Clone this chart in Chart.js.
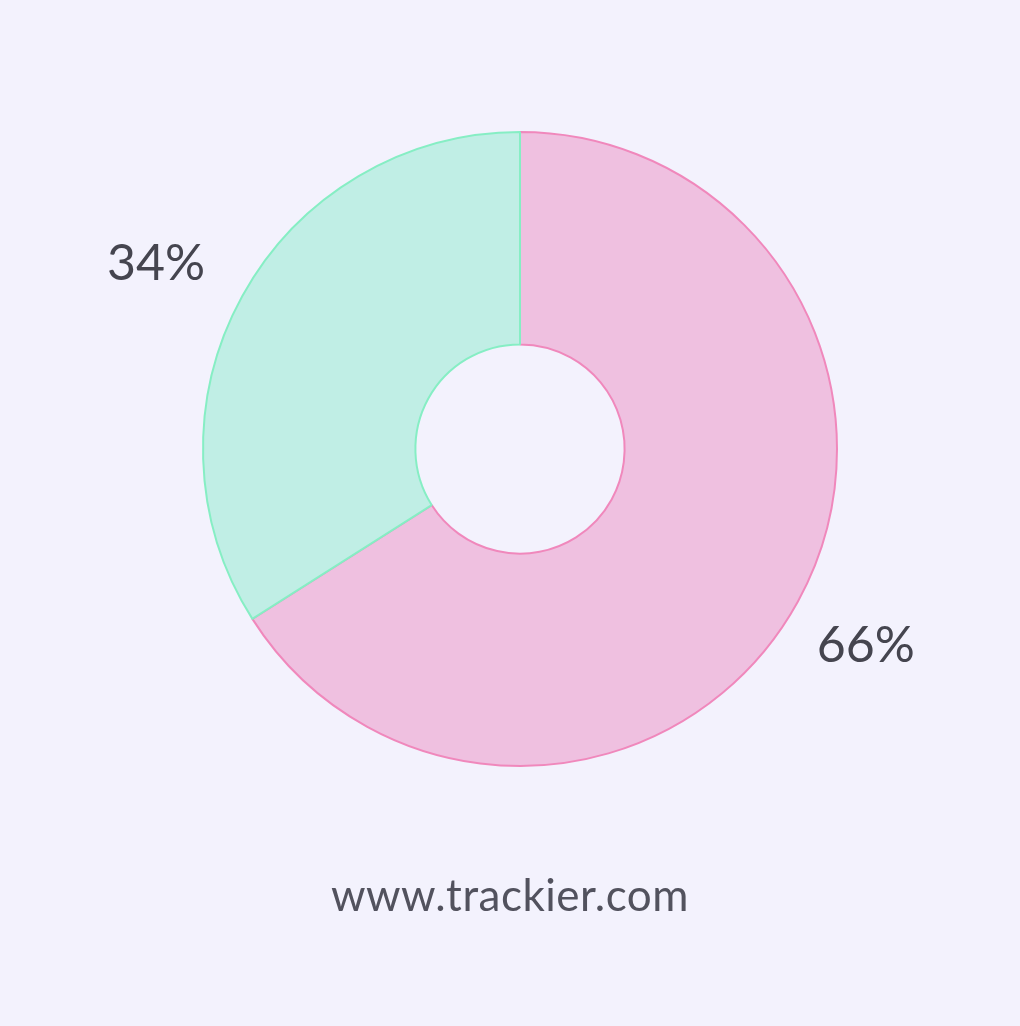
<!DOCTYPE html>
<html>
<head>
<meta charset="utf-8">
<script src="https://cdn.jsdelivr.net/npm/chart.js@4.4.0/dist/chart.umd.min.js"></script>
<style>
  html, body { margin: 0; padding: 0; background: #F3F2FD; }
  #wrap { position: relative; width: 1020px; height: 1026px; }
  #footer {
    position: absolute; left: 0; right: 0; top: 868px;
    text-align: center; font-family: Lato, sans-serif; font-size: 44px;
    color: #52525E; letter-spacing: 0.5px;
  }
</style>
</head>
<body>
<div id="wrap">
  <canvas id="pieChart" width="1020" height="1026"></canvas>
  <div id="footer">www.trackier.com</div>
</div>
<script>
// Chart data
const labels = ['Pink', 'Teal'];
const values = [66, 34];
const valueLabels = ['66%', '34%'];
const fillColors = ['#EFC0E0', '#C0EEE5'];
const borderColors = ['#F088BC', '#86EEC4'];

// Draw the percentage labels outside each slice
const outsideLabels = {
  id: 'outsideLabels',
  afterDatasetsDraw(chart) {
    const ctx = chart.ctx;
    const meta = chart.getDatasetMeta(0);
    ctx.save();
    ctx.font = '50px Lato, sans-serif';
    ctx.fillStyle = '#45454F';
    ctx.textAlign = 'center';
    ctx.textBaseline = 'middle';
    meta.data.forEach(function (arc, i) {
      const mid = (arc.startAngle + arc.endAngle) / 2;
      const rx = arc.outerRadius + 88;
      const ry = arc.outerRadius + 80;
      ctx.fillText(valueLabels[i], arc.x + Math.cos(mid) * rx - 9, arc.y + Math.sin(mid) * ry + 6);
    });
    ctx.restore();
  }
};

const pieChart = new Chart(document.getElementById('pieChart').getContext('2d'), {
  type: 'doughnut',
  data: {
    labels: labels,
    datasets: [{
      data: values,
      backgroundColor: fillColors,
      borderColor: borderColors,
      borderWidth: 2
    }]
  },
  options: {
    responsive: false,
    animation: false,
    cutout: '33%',
    layout: { padding: { left: 202, right: 182, top: 131, bottom: 259 } },
    plugins: {
      legend: { display: false },
      tooltip: { enabled: false }
    }
  },
  plugins: [outsideLabels]
});
</script>
</body>
</html>
